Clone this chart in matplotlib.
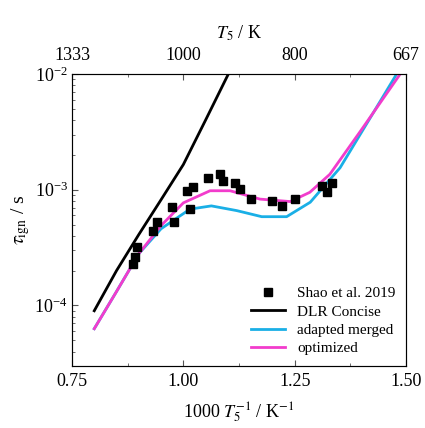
import numpy as np
import matplotlib.pyplot as plt
from matplotlib.ticker import FixedLocator, LogLocator, NullFormatter

plt.rcParams['font.family'] = ['Liberation Serif', 'DejaVu Serif']
plt.rcParams['mathtext.fontset'] = 'stix'
plt.rcParams['font.size'] = 13

# measured ignition delays (1000/T, tau in s)
shao_x = [0.895, 0.892, 0.887, 0.933, 0.940, 0.974, 0.979, 1.015, 1.008, 1.022,
          1.056, 1.082, 1.088, 1.116, 1.127, 1.152, 1.198, 1.221, 1.251, 1.311,
          1.333, 1.323]
shao_y = [3.19e-4, 2.64e-4, 2.30e-4, 4.39e-4, 5.30e-4, 7.03e-4, 5.23e-4, 6.81e-4,
          9.66e-4, 1.06e-3, 1.27e-3, 1.36e-3, 1.19e-3, 1.14e-3, 1.01e-3, 8.28e-4,
          8.01e-4, 7.18e-4, 8.28e-4, 1.08e-3, 1.15e-3, 9.57e-4]

# mechanism results
dlr_x = [0.80, 0.85, 0.90, 0.95, 1.00, 1.05, 1.10, 1.15]
dlr_y = [9.0e-5, 2.0e-4, 4.1e-4, 8.2e-4, 1.65e-3, 4.0e-3, 9.8e-3, 2.5e-2]

merged_x = [0.80, 0.85, 0.90, 0.95, 1.015, 1.063, 1.12, 1.176, 1.232, 1.285, 1.352, 1.42, 1.479]
merged_y = [6.3e-5, 1.32e-4, 2.8e-4, 4.6e-4, 6.8e-4, 7.25e-4, 6.6e-4, 5.85e-4, 5.85e-4,
            7.8e-4, 1.55e-3, 4.2e-3, 1.0e-2]

opt_x = [0.80, 0.85, 0.90, 0.95, 1.00, 1.06, 1.105, 1.172, 1.24, 1.284, 1.329, 1.40, 1.487]
opt_y = [6.3e-5, 1.32e-4, 2.8e-4, 4.9e-4, 7.7e-4, 9.8e-4, 9.8e-4, 8.3e-4, 7.9e-4,
         9.5e-4, 1.36e-3, 3.3e-3, 1.0e-2]

top_ticks = [0.75, 1.0, 1.25, 1.5]
top_labels = ['1333', '1000', '800', '667']

fig = plt.figure(figsize=(4.25, 4.28), dpi=100)
ax = fig.add_axes([0.1694, 0.1449, 0.7859, 0.6822])

ax.plot(shao_x, shao_y, 's', color='black', ms=6, label='Shao et al. 2019', zorder=5)
ax.plot(dlr_x, dlr_y, color='black', lw=2, label='DLR Concise')
ax.plot(merged_x, merged_y, color='#1aafe6', lw=2, label='adapted merged')
ax.plot(opt_x, opt_y, color='#f23ccc', lw=2, label='optimized')

ax.set_yscale('log')
ax.set_xlim(0.75, 1.5)
ax.set_ylim(3e-5, 1e-2)
ax.set_xticks([0.75, 1.0, 1.25, 1.5])
ax.set_xticklabels(['0.75', '1.00', '1.25', '1.50'])
ax.xaxis.set_minor_locator(FixedLocator([0.875, 1.125, 1.375]))
ax.yaxis.set_major_locator(LogLocator(base=10, numticks=10))
ax.yaxis.set_minor_locator(LogLocator(base=10, subs=np.arange(2, 10), numticks=20))
ax.yaxis.set_minor_formatter(NullFormatter())
ax.tick_params(which='both', direction='in', top=False, right=False, color='#555555')
ax.tick_params(which='major', length=4)
ax.tick_params(which='minor', length=2.5)
ax.tick_params(axis='x', pad=5)
ax.tick_params(axis='y', pad=3)
for s in ax.spines.values():
    s.set_color('#555555')

ax.set_xlabel('1000 $T_5^{-1}$ / K$^{-1}$', labelpad=8)
ax.set_ylabel(r'$\tau_\mathrm{ign}$ / s', labelpad=2, fontsize=14)

top = ax.twiny()
top.set_xlim(ax.get_xlim())
top.set_xticks(top_ticks)
top.set_xticklabels(top_labels)
top.xaxis.set_minor_locator(FixedLocator([0.875, 1.125, 1.375]))
top.tick_params(which='both', direction='in', color='#555555')
top.tick_params(which='major', length=4, pad=7)
top.tick_params(which='minor', length=2.5)
top.set_xlabel('$T_5$ / K', labelpad=6)

ax.legend(loc='lower right', frameon=False, fontsize=11, handlelength=2.2,
          borderaxespad=0.3, labelspacing=0.3)

fig.savefig('out.png', dpi=100)
